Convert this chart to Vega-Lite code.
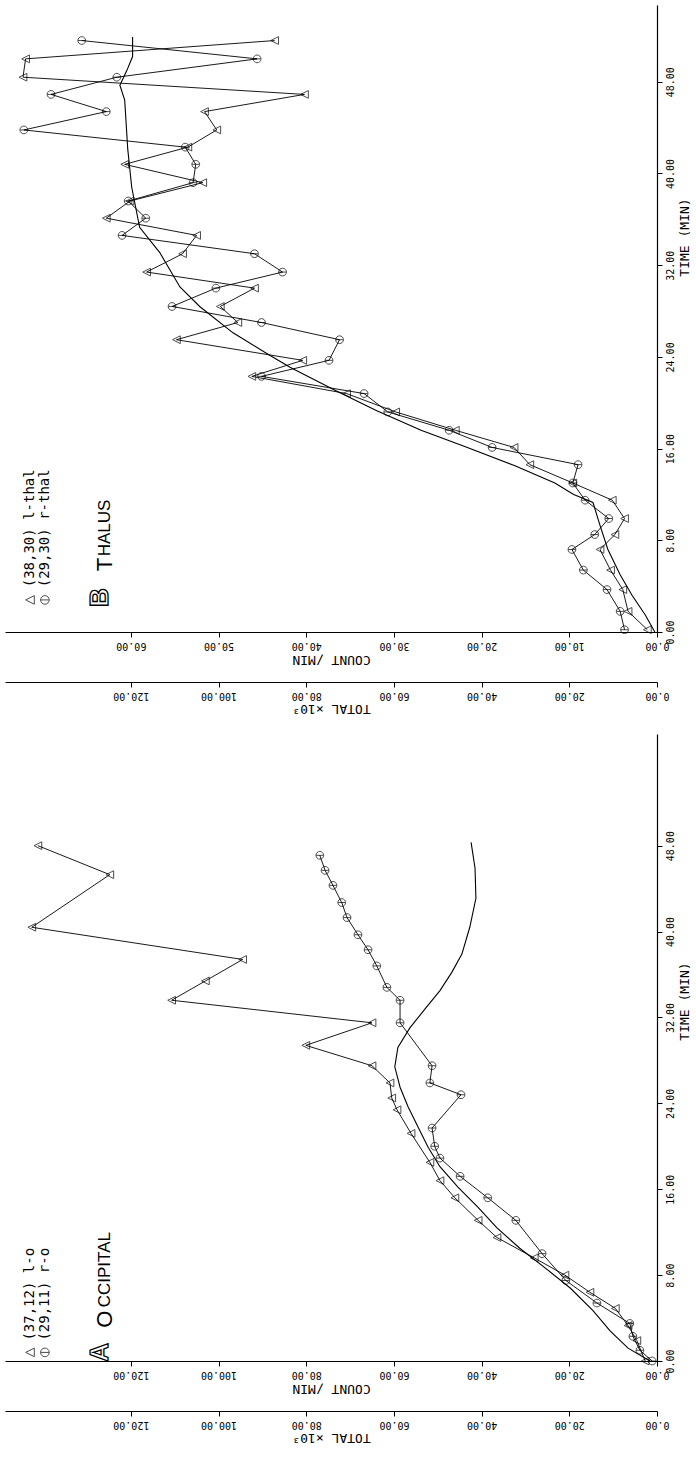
{
  "$schema": "https://vega.github.io/schema/vega-lite/v6.json",
  "padding": {"left": 5, "top": 5, "right": 0, "bottom": 12},
  "background": "white",
  "config": {
    "view": {"stroke": null},
    "font": "DejaVu Sans Mono",
    "axis": {"grid": false, "domainColor": "#000", "tickColor": "#000", "labelColor": "#000", "titleColor": "#000", "labelFont": "DejaVu Sans Mono", "titleFont": "DejaVu Sans Mono", "labelFontSize": 10, "titleFontSize": 13, "titleFontWeight": "normal", "domainWidth": 1.2, "tickSize": 5, "labelPadding": 3}
  },
  "bounds": "flush",
  "spacing": 102,
  "vconcat": [
    {
      "width": 652, "height": 627,
      "data": {"values": [
        {"s": "tri", "t": 0.2, "v": 1.1}, {"s": "tri", "t": 1.8, "v": 3.3}, {"s": "tri", "t": 3.7, "v": 3.9},
        {"s": "tri", "t": 5.4, "v": 5.3}, {"s": "tri", "t": 7.2, "v": 6.5}, {"s": "tri", "t": 8.5, "v": 4.8},
        {"s": "tri", "t": 9.9, "v": 3.7}, {"s": "tri", "t": 11.5, "v": 5.1}, {"s": "tri", "t": 13.0, "v": 9.6},
        {"s": "tri", "t": 14.6, "v": 14.5}, {"s": "tri", "t": 16.1, "v": 16.3}, {"s": "tri", "t": 17.6, "v": 23.0},
        {"s": "tri", "t": 19.2, "v": 29.8}, {"s": "tri", "t": 20.8, "v": 35.4}, {"s": "tri", "t": 22.3, "v": 46.2},
        {"s": "tri", "t": 23.7, "v": 40.4}, {"s": "tri", "t": 25.5, "v": 54.8}, {"s": "tri", "t": 27.0, "v": 47.8},
        {"s": "tri", "t": 28.4, "v": 49.8}, {"s": "tri", "t": 30.0, "v": 45.9}, {"s": "tri", "t": 31.4, "v": 58.2},
        {"s": "tri", "t": 33.0, "v": 54.1}, {"s": "tri", "t": 34.6, "v": 52.5}, {"s": "tri", "t": 36.1, "v": 62.8},
        {"s": "tri", "t": 37.6, "v": 60.1}, {"s": "tri", "t": 39.2, "v": 51.8}, {"s": "tri", "t": 40.8, "v": 60.7},
        {"s": "tri", "t": 42.3, "v": 53.5}, {"s": "tri", "t": 43.8, "v": 50.2}, {"s": "tri", "t": 45.4, "v": 51.6},
        {"s": "tri", "t": 46.9, "v": 40.2}, {"s": "tri", "t": 48.4, "v": 72.3}, {"s": "tri", "t": 50.0, "v": 72.0},
        {"s": "tri", "t": 51.6, "v": 43.6},
        {"s": "cir", "t": 0.2, "v": 3.7}, {"s": "cir", "t": 1.8, "v": 4.2}, {"s": "cir", "t": 3.7, "v": 5.7},
        {"s": "cir", "t": 5.4, "v": 8.4}, {"s": "cir", "t": 7.2, "v": 9.7}, {"s": "cir", "t": 8.5, "v": 7.1},
        {"s": "cir", "t": 9.9, "v": 5.5}, {"s": "cir", "t": 11.5, "v": 8.2}, {"s": "cir", "t": 13.0, "v": 9.6},
        {"s": "cir", "t": 14.6, "v": 9.0}, {"s": "cir", "t": 16.1, "v": 18.8}, {"s": "cir", "t": 17.6, "v": 23.7},
        {"s": "cir", "t": 19.2, "v": 30.7}, {"s": "cir", "t": 20.8, "v": 33.4}, {"s": "cir", "t": 22.3, "v": 45.1},
        {"s": "cir", "t": 23.7, "v": 37.4}, {"s": "cir", "t": 25.5, "v": 36.2}, {"s": "cir", "t": 27.0, "v": 45.1},
        {"s": "cir", "t": 28.4, "v": 55.3}, {"s": "cir", "t": 30.0, "v": 50.3}, {"s": "cir", "t": 31.4, "v": 42.7},
        {"s": "cir", "t": 33.0, "v": 45.9}, {"s": "cir", "t": 34.6, "v": 61.0}, {"s": "cir", "t": 36.1, "v": 58.3},
        {"s": "cir", "t": 37.6, "v": 60.3}, {"s": "cir", "t": 39.2, "v": 52.9}, {"s": "cir", "t": 40.8, "v": 52.6},
        {"s": "cir", "t": 42.3, "v": 53.8}, {"s": "cir", "t": 43.8, "v": 72.2}, {"s": "cir", "t": 45.4, "v": 62.8},
        {"s": "cir", "t": 46.9, "v": 69.1}, {"s": "cir", "t": 48.4, "v": 61.6}, {"s": "cir", "t": 50.0, "v": 45.6},
        {"s": "cir", "t": 51.6, "v": 65.6},
        {"s": "tot", "t": 0.0, "v": 0.5}, {"s": "tot", "t": 1.5, "v": 2.7}, {"s": "tot", "t": 3.2, "v": 5.7},
        {"s": "tot", "t": 5.0, "v": 8.4}, {"s": "tot", "t": 7.2, "v": 11.2}, {"s": "tot", "t": 9.3, "v": 13.0},
        {"s": "tot", "t": 11.3, "v": 14.6}, {"s": "tot", "t": 12.0, "v": 19.0}, {"s": "tot", "t": 13.0, "v": 23.3},
        {"s": "tot", "t": 14.5, "v": 32.4}, {"s": "tot", "t": 16.2, "v": 44.0}, {"s": "tot", "t": 17.6, "v": 53.8},
        {"s": "tot", "t": 19.3, "v": 63.9}, {"s": "tot", "t": 21.0, "v": 73.0}, {"s": "tot", "t": 23.1, "v": 83.7},
        {"s": "tot", "t": 24.3, "v": 89.0}, {"s": "tot", "t": 26.1, "v": 96.7}, {"s": "tot", "t": 28.4, "v": 104.3},
        {"s": "tot", "t": 30.1, "v": 108.8}, {"s": "tot", "t": 33.1, "v": 113.4}, {"s": "tot", "t": 35.3, "v": 118.0},
        {"s": "tot", "t": 38.8, "v": 119.8}, {"s": "tot", "t": 42.1, "v": 120.7}, {"s": "tot", "t": 46.4, "v": 121.4},
        {"s": "tot", "t": 47.7, "v": 122.5}, {"s": "tot", "t": 49.0, "v": 120.9}, {"s": "tot", "t": 50.2, "v": 119.6},
        {"s": "tot", "t": 51.9, "v": 119.6}
      ]},
      "encoding": {
        "y": {"field": "t", "type": "quantitative", "scale": {"domain": [0, 54.7]}, "axis": {"orient": "right", "values": [0, 8, 16, 24, 32, 40, 48], "format": ".2f", "labelAngle": -90, "labelAlign": "center", "labelBaseline": "top", "title": "TIME (MIN)", "titleAngle": -90, "titleAlign": "center", "titleBaseline": "top", "titleY": 232, "titlePadding": 3}}
      },
      "layer": [
        {
          "transform": [{"filter": "datum.s === 'tot'"}],
          "mark": {"type": "line", "color": "#000", "strokeWidth": 1.1},
          "encoding": {
            "order": {"field": "t", "type": "quantitative"},
            "x": {"field": "v", "type": "quantitative", "scale": {"domain": [0, 148.7], "reverse": true}, "axis": {"orient": "bottom", "offset": 50, "values": [0, 20, 40, 60, 80, 100, 120], "format": ".2f", "labelAngle": 180, "labelAlign": "center", "labelBaseline": "bottom", "title": "TOTAL ×10³", "titleAngle": 180, "titleBaseline": "bottom", "titlePadding": 1}}
          }
        },
        {
          "encoding": {
            "x": {"field": "v", "type": "quantitative", "scale": {"domain": [0, 74.35], "reverse": true}, "axis": {"orient": "bottom", "values": [0, 10, 20, 30, 40, 50, 60], "format": ".2f", "labelAngle": 180, "labelAlign": "center", "labelBaseline": "bottom", "title": "COUNT /MIN", "titleAngle": 180, "titleBaseline": "bottom", "titlePadding": 2}}
          },
          "layer": [
            {"transform": [{"filter": "datum.s !== 'tot'"}],
             "mark": {"type": "line", "color": "#000", "strokeWidth": 0.9},
             "encoding": {"detail": {"field": "s"}, "order": {"field": "t", "type": "quantitative"}}},
            {"transform": [{"filter": "datum.s !== 'tot'"}],
             "mark": {"type": "point", "filled": false, "color": "#000", "strokeWidth": 1, "size": 60},
             "encoding": {"shape": {"field": "s", "type": "nominal", "scale": {"domain": ["tri", "cir"], "range": ["M1,-1L-1,0L1,1Z", "M-1,0A1,1,0,1,1,1,0A1,1,0,1,1,-1,0ZM-1,0L1,0"]}, "legend": null}}},
            {
              "data": {"values": [
                {"s": "tri", "t": 2.8, "v": 71.5},
                {"s": "cir", "t": 2.8, "v": 69.8}
              ]},
              "mark": {"type": "point", "filled": false, "color": "#000", "strokeWidth": 1, "size": 75},
              "encoding": {"shape": {"field": "s", "type": "nominal", "scale": {"domain": ["tri", "cir"], "range": ["M1,-1L-1,0L1,1Z", "M-1,0A1,1,0,1,1,1,0A1,1,0,1,1,-1,0ZM-1,0L1,0"]}, "legend": null}}
            },
            {
              "data": {"values": [
                {"t": 3.9, "v": 71.5, "txt": "(38,30) l-thal"},
                {"t": 3.9, "v": 69.8, "txt": "(29,30) r-thal"}
              ]},
              "mark": {"type": "text", "angle": 270, "align": "left", "baseline": "middle", "font": "DejaVu Sans Mono", "fontSize": 14, "color": "#000"},
              "encoding": {"text": {"field": "txt"}}
            },
            {
              "data": {"values": [{"t": 3.0, "v": 63.5, "txt": "B"}]},
              "mark": {"type": "text", "angle": 270, "align": "center", "baseline": "middle", "font": "Liberation Sans", "fontWeight": "bold", "fontSize": 26, "fill": "white", "stroke": "#000", "strokeWidth": 1.3},
              "encoding": {"text": {"field": "txt"}}
            },
            {
              "data": {"values": [{"t": 5.3, "v": 63.0, "txt": "T", "fs": "big"}, {"t": 6.6, "v": 63.0, "txt": "HALUS", "fs": "small"}]},
              "mark": {"type": "text", "angle": 270, "align": "left", "baseline": "middle", "font": "Liberation Sans", "color": "#000"},
              "encoding": {"text": {"field": "txt"}, "size": {"field": "fs", "type": "nominal", "scale": {"domain": ["big", "small"], "range": [22, 17]}, "legend": null}}
            }
          ]
        }
      ],
      "resolve": {"scale": {"x": "independent"}, "axis": {"x": "independent"}}
    },
    {
      "width": 652, "height": 627,
      "data": {"values": [
        {"s": "tri", "t": 0.0, "v": 2.7}, {"s": "tri", "t": 1.9, "v": 4.6}, {"s": "tri", "t": 3.3, "v": 6.6},
        {"s": "tri", "t": 4.9, "v": 9.5}, {"s": "tri", "t": 6.4, "v": 15.3}, {"s": "tri", "t": 8.0, "v": 21.0},
        {"s": "tri", "t": 9.6, "v": 28.0}, {"s": "tri", "t": 11.5, "v": 36.5}, {"s": "tri", "t": 13.1, "v": 40.8},
        {"s": "tri", "t": 15.2, "v": 46.1}, {"s": "tri", "t": 16.8, "v": 49.5}, {"s": "tri", "t": 18.5, "v": 51.8},
        {"s": "tri", "t": 21.2, "v": 56.1}, {"s": "tri", "t": 23.4, "v": 59.3}, {"s": "tri", "t": 24.5, "v": 60.5},
        {"s": "tri", "t": 25.9, "v": 60.9}, {"s": "tri", "t": 27.5, "v": 65.0}, {"s": "tri", "t": 29.4, "v": 80.1},
        {"s": "tri", "t": 31.5, "v": 65.0}, {"s": "tri", "t": 33.6, "v": 110.7}, {"s": "tri", "t": 35.4, "v": 103.0},
        {"s": "tri", "t": 37.4, "v": 94.5}, {"s": "tri", "t": 40.4, "v": 142.6},
        {"s": "tri", "t": 45.3, "v": 124.8}, {"s": "tri", "t": 48.0, "v": 141.2},
        {"s": "cir", "t": 0.0, "v": 1.1}, {"s": "cir", "t": 1.0, "v": 3.9}, {"s": "cir", "t": 2.3, "v": 5.5},
        {"s": "cir", "t": 3.5, "v": 6.2}, {"s": "cir", "t": 5.4, "v": 13.7}, {"s": "cir", "t": 7.5, "v": 20.8},
        {"s": "cir", "t": 10.0, "v": 26.2}, {"s": "cir", "t": 13.1, "v": 32.2}, {"s": "cir", "t": 15.2, "v": 38.6},
        {"s": "cir", "t": 17.2, "v": 44.9}, {"s": "cir", "t": 18.9, "v": 49.5}, {"s": "cir", "t": 20.0, "v": 50.7},
        {"s": "cir", "t": 21.7, "v": 51.3}, {"s": "cir", "t": 24.8, "v": 44.7}, {"s": "cir", "t": 25.9, "v": 51.8},
        {"s": "cir", "t": 27.5, "v": 51.3}, {"s": "cir", "t": 31.5, "v": 58.6}, {"s": "cir", "t": 33.6, "v": 58.6},
        {"s": "cir", "t": 34.8, "v": 61.6}, {"s": "cir", "t": 36.8, "v": 63.9}, {"s": "cir", "t": 38.3, "v": 65.9},
        {"s": "cir", "t": 39.7, "v": 68.2}, {"s": "cir", "t": 41.3, "v": 70.7}, {"s": "cir", "t": 42.7, "v": 71.9},
        {"s": "cir", "t": 44.3, "v": 73.9}, {"s": "cir", "t": 45.7, "v": 75.7}, {"s": "cir", "t": 47.1, "v": 76.9},
        {"s": "tot", "t": 0.0, "v": 1.6}, {"s": "tot", "t": 1.2, "v": 6.6}, {"s": "tot", "t": 2.8, "v": 10.7},
        {"s": "tot", "t": 4.7, "v": 14.6}, {"s": "tot", "t": 6.8, "v": 19.8}, {"s": "tot", "t": 8.7, "v": 25.6},
        {"s": "tot", "t": 10.5, "v": 31.3}, {"s": "tot", "t": 12.4, "v": 36.5}, {"s": "tot", "t": 14.3, "v": 40.8},
        {"s": "tot", "t": 16.2, "v": 45.4}, {"s": "tot", "t": 18.1, "v": 49.5}, {"s": "tot", "t": 19.9, "v": 52.2},
        {"s": "tot", "t": 21.8, "v": 54.5}, {"s": "tot", "t": 23.7, "v": 56.8}, {"s": "tot", "t": 25.5, "v": 58.6},
        {"s": "tot", "t": 27.4, "v": 59.8}, {"s": "tot", "t": 29.2, "v": 59.1}, {"s": "tot", "t": 31.0, "v": 56.4},
        {"s": "tot", "t": 32.8, "v": 52.9}, {"s": "tot", "t": 34.5, "v": 49.5}, {"s": "tot", "t": 36.2, "v": 46.8},
        {"s": "tot", "t": 37.9, "v": 44.5}, {"s": "tot", "t": 40.4, "v": 42.7}, {"s": "tot", "t": 43.1, "v": 41.3},
        {"s": "tot", "t": 45.9, "v": 41.5}, {"s": "tot", "t": 48.3, "v": 42.4}
      ]},
      "encoding": {
        "y": {"field": "t", "type": "quantitative", "scale": {"domain": [0, 58.4]}, "axis": {"orient": "right", "values": [0, 8, 16, 24, 32, 40, 48], "format": ".2f", "labelAngle": -90, "labelAlign": "center", "labelBaseline": "top", "title": "TIME (MIN)", "titleAngle": -90, "titleAlign": "center", "titleBaseline": "top", "titleY": 267, "titlePadding": 3}}
      },
      "layer": [
        {
          "transform": [{"filter": "datum.s === 'tot'"}],
          "mark": {"type": "line", "color": "#000", "strokeWidth": 1.1},
          "encoding": {
            "order": {"field": "t", "type": "quantitative"},
            "x": {"field": "v", "type": "quantitative", "scale": {"domain": [0, 148.7], "reverse": true}, "axis": {"orient": "bottom", "offset": 50, "values": [0, 20, 40, 60, 80, 100, 120], "format": ".2f", "labelAngle": 180, "labelAlign": "center", "labelBaseline": "bottom", "title": "TOTAL ×10³", "titleAngle": 180, "titleBaseline": "bottom", "titlePadding": 1}}
          }
        },
        {
          "encoding": {
            "x": {"field": "v", "type": "quantitative", "scale": {"domain": [0, 148.7], "reverse": true}, "axis": {"orient": "bottom", "values": [0, 20, 40, 60, 80, 100, 120], "format": ".2f", "labelAngle": 180, "labelAlign": "center", "labelBaseline": "bottom", "title": "COUNT /MIN", "titleAngle": 180, "titleBaseline": "bottom", "titlePadding": 2}}
          },
          "layer": [
            {"transform": [{"filter": "datum.s !== 'tot'"}],
             "mark": {"type": "line", "color": "#000", "strokeWidth": 0.9},
             "encoding": {"detail": {"field": "s"}, "order": {"field": "t", "type": "quantitative"}}},
            {"transform": [{"filter": "datum.s !== 'tot'"}],
             "mark": {"type": "point", "filled": false, "color": "#000", "strokeWidth": 1, "size": 60},
             "encoding": {"shape": {"field": "s", "type": "nominal", "scale": {"domain": ["tri", "cir"], "range": ["M1,-1L-1,0L1,1Z", "M-1,0A1,1,0,1,1,1,0A1,1,0,1,1,-1,0ZM-1,0L1,0"]}, "legend": null}}},
            {
              "data": {"values": [
                {"s": "tri", "t": 0.8, "v": 143.0},
                {"s": "cir", "t": 0.8, "v": 139.6}
              ]},
              "mark": {"type": "point", "filled": false, "color": "#000", "strokeWidth": 1, "size": 75},
              "encoding": {"shape": {"field": "s", "type": "nominal", "scale": {"domain": ["tri", "cir"], "range": ["M1,-1L-1,0L1,1Z", "M-1,0A1,1,0,1,1,1,0A1,1,0,1,1,-1,0ZM-1,0L1,0"]}, "legend": null}}
            },
            {
              "data": {"values": [
                {"t": 1.9, "v": 143.0, "txt": "(37,12) l-o"},
                {"t": 1.9, "v": 139.6, "txt": "(29,11) r-o"}
              ]},
              "mark": {"type": "text", "angle": 270, "align": "left", "baseline": "middle", "font": "DejaVu Sans Mono", "fontSize": 14, "color": "#000"},
              "encoding": {"text": {"field": "txt"}}
            },
            {
              "data": {"values": [{"t": 0.8, "v": 127.0, "txt": "A"}]},
              "mark": {"type": "text", "angle": 270, "align": "center", "baseline": "middle", "font": "Liberation Sans", "fontWeight": "bold", "fontSize": 26, "fill": "white", "stroke": "#000", "strokeWidth": 1.3},
              "encoding": {"text": {"field": "txt"}}
            },
            {
              "data": {"values": [{"t": 3.1, "v": 126.0, "txt": "O", "fs": "big"}, {"t": 5.0, "v": 126.0, "txt": "CCIPITAL", "fs": "small"}]},
              "mark": {"type": "text", "angle": 270, "align": "left", "baseline": "middle", "font": "Liberation Sans", "color": "#000"},
              "encoding": {"text": {"field": "txt"}, "size": {"field": "fs", "type": "nominal", "scale": {"domain": ["big", "small"], "range": [23, 19]}, "legend": null}}
            }
          ]
        }
      ],
      "resolve": {"scale": {"x": "independent"}, "axis": {"x": "independent"}}
    }
  ]
}
